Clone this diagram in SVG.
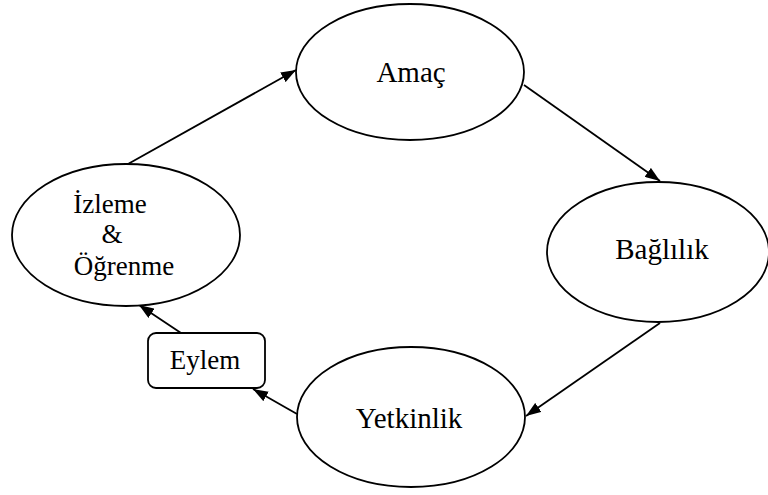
<svg xmlns="http://www.w3.org/2000/svg" width="768" height="495" viewBox="0 0 768 495">
  <defs>
    <marker id="arrow" viewBox="0 0 15 11" refX="15" refY="5.5" markerWidth="15" markerHeight="11" markerUnits="userSpaceOnUse" orient="auto">
      <path d="M0,0 L15,5.5 L0,11 Z" fill="#000"/>
    </marker>
  </defs>
  <style>
    .node { fill: #fff; stroke: #000; stroke-width: 1.8; }
    .label { font-family: "Liberation Serif", "Times New Roman", serif; fill: #000; text-anchor: middle; }
    .big { font-size: 29px; }
    .small { font-size: 27px; }
    .edge { stroke: #000; stroke-width: 1.8; fill: none; marker-end: url(#arrow); }
  </style>
  <rect width="768" height="495" fill="#fff"/>

  <g id="connectors">
    <line class="edge" x1="128" y1="164" x2="296" y2="70"/>
    <line class="edge" x1="524" y1="85" x2="660" y2="181"/>
    <line class="edge" x1="660" y1="323" x2="526" y2="416"/>
    <line class="edge" x1="297" y1="414" x2="253" y2="389"/>
    <line class="edge" x1="181" y1="333" x2="139" y2="305"/>
  </g>

  <g id="amac">
    <ellipse class="node" cx="410" cy="72" rx="114" ry="68"/>
    <text class="label big" x="411" y="82">Amaç</text>
  </g>

  <g id="baglilik">
    <ellipse class="node" cx="658" cy="252" rx="111" ry="70"/>
    <text class="label big" x="662" y="259">Bağlılık</text>
  </g>

  <g id="yetkinlik">
    <ellipse class="node" cx="411" cy="417" rx="114" ry="70"/>
    <text class="label big" x="409" y="428">Yetkinlik</text>
  </g>

  <g id="izleme-ogrenme">
    <ellipse class="node" cx="126" cy="235" rx="114" ry="71"/>
    <text class="label small" x="110" y="213">İzleme</text>
    <text class="label small" x="112" y="243">&amp;</text>
    <text class="label small" x="124" y="275">Öğrenme</text>
  </g>

  <g id="eylem">
    <rect class="node" x="148" y="333" width="117" height="55" rx="8" ry="8"/>
    <text class="label small" x="205" y="369">Eylem</text>
  </g>
</svg>
